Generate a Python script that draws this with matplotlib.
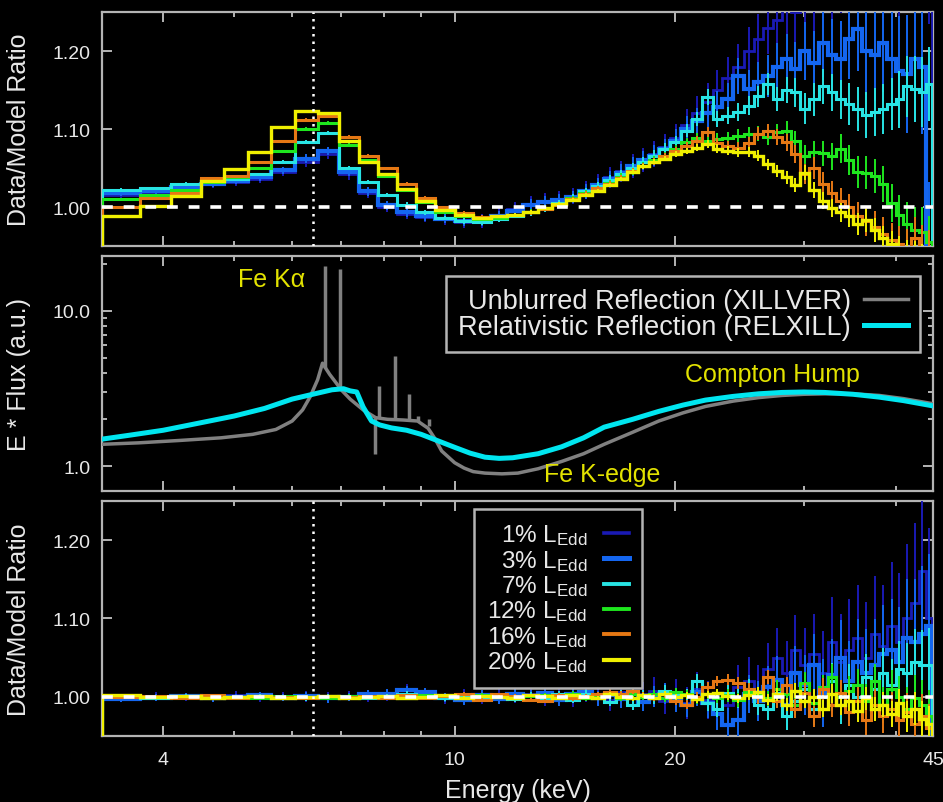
import numpy as np
import matplotlib
matplotlib.use("Agg")
import matplotlib.pyplot as plt
from matplotlib.lines import Line2D
from matplotlib.ticker import FixedLocator, FixedFormatter, NullFormatter

plt.rcParams['font.family'] = ['Liberation Sans', 'DejaVu Sans']
plt.rcParams['mathtext.fontset'] = 'custom'
plt.rcParams['mathtext.rm'] = 'Liberation Sans'
plt.rcParams['mathtext.it'] = 'Liberation Sans:italic'

# ---- spectral bins (keV) ----
edges = [3.3, 3.72, 4.1, 4.5, 4.85, 5.22, 5.62, 6.05, 6.5, 6.95,
         7.4, 7.85, 8.35, 8.85, 9.4, 10.0, 10.6, 11.2, 11.8, 12.4,
         13.0, 13.6, 14.2, 14.8, 15.4, 16.0, 16.6, 17.2, 17.8, 18.4,
         19.0, 19.7, 20.4, 21.1, 21.8, 22.5, 23.2, 24.0, 24.8, 25.6,
         26.4, 27.2, 28.0, 28.8, 29.6, 30.5, 31.4, 32.3, 33.2, 34.1,
         35.0, 36.0, 37.0, 38.0, 39.0, 40.0, 41.0, 42.0, 43.0, 44.0, 44.8]

labels = ['1%', '3%', '7%', '12%', '16%', '20%']
colors = ['#1a1ab4', '#1466f0', '#28e4e4', '#1ee61e', '#e67814', '#f0f000']
widths = [2.0, 3.0, 2.2, 2.2, 2.2, 2.4]

# data/model ratio against a power law (top panel)
ratio_pl = [
    [1.016, 1.019, 1.025, 1.029, 1.032, 1.036, 1.045, 1.058, 1.068, 1.042,
     1.018, 1.000, 0.991, 0.987, 0.984, 0.981, 0.982, 0.990, 0.998, 1.004,
     1.008, 1.010, 1.014, 1.022, 1.030, 1.038, 1.046, 1.053, 1.060, 1.068,
     1.077, 1.088, 1.105, 1.120, 1.135, 1.150, 1.165, 1.180, 1.200, 1.215,
     1.230, 1.240, 1.260, 1.250, 1.280, 1.270, 1.300, 1.290, 1.310, 1.300,
     1.330, 1.310, 1.340, 1.320, 1.350, 1.330, 1.360, 1.340, 1.370, 1.350],
    [1.018, 1.020, 1.026, 1.030, 1.033, 1.038, 1.047, 1.062, 1.072, 1.045,
     1.020, 1.002, 0.993, 0.988, 0.985, 0.982, 0.983, 0.988, 0.995, 1.002,
     1.006, 1.009, 1.013, 1.020, 1.028, 1.036, 1.044, 1.052, 1.060, 1.066,
     1.074, 1.085, 1.100, 1.110, 1.120, 1.128, 1.138, 1.168, 1.151, 1.160,
     1.168, 1.180, 1.190, 1.177, 1.200, 1.185, 1.210, 1.195, 1.190, 1.215,
     1.228, 1.200, 1.195, 1.210, 1.190, 1.175, 1.170, 1.190, 1.180, 0.940],
    [1.022, 1.024, 1.030, 1.034, 1.036, 1.042, 1.058, 1.083, 1.095, 1.050,
     1.032, 1.015, 1.003, 0.993, 0.986, 0.982, 0.981, 0.984, 0.989, 0.993,
     0.998, 1.005, 1.012, 1.020, 1.027, 1.035, 1.042, 1.050, 1.058, 1.066,
     1.075, 1.083, 1.098, 1.113, 1.141, 1.113, 1.117, 1.122, 1.130, 1.142,
     1.158, 1.138, 1.150, 1.147, 1.126, 1.138, 1.155, 1.147, 1.138, 1.132,
     1.126, 1.118, 1.122, 1.126, 1.132, 1.138, 1.155, 1.151, 1.148, 1.158],
    [1.010, 1.015, 1.022, 1.032, 1.038, 1.050, 1.072, 1.100, 1.108, 1.080,
     1.060, 1.040, 1.022, 1.006, 0.994, 0.988, 0.985, 0.986, 0.990, 0.994,
     0.999, 1.004, 1.011, 1.018, 1.024, 1.031, 1.039, 1.046, 1.053, 1.060,
     1.066, 1.074, 1.083, 1.088, 1.085, 1.087, 1.088, 1.091, 1.093, 1.094,
     1.090, 1.096, 1.098, 1.085, 1.066, 1.070, 1.069, 1.065, 1.075, 1.060,
     1.045, 1.044, 1.040, 1.030, 1.005, 0.990, 0.978, 0.970, 0.968, 0.955],
    [1.000, 1.011, 1.018, 1.037, 1.040, 1.058, 1.085, 1.112, 1.117, 1.090,
     1.066, 1.050, 1.030, 1.012, 1.000, 0.992, 0.987, 0.988, 0.990, 0.993,
     0.997, 1.002, 1.010, 1.017, 1.024, 1.030, 1.037, 1.046, 1.053, 1.058,
     1.065, 1.072, 1.078, 1.085, 1.096, 1.082, 1.078, 1.076, 1.082, 1.094,
     1.097, 1.090, 1.083, 1.068, 1.042, 1.050, 1.030, 1.018, 1.008, 1.000,
     0.989, 0.982, 0.975, 0.966, 0.958, 0.952, 0.946, 0.960, 0.948, 0.940],
    [0.989, 1.001, 1.014, 1.033, 1.049, 1.071, 1.103, 1.123, 1.120, 1.085,
     1.058, 1.042, 1.023, 1.008, 0.996, 0.990, 0.986, 0.988, 0.990, 0.994,
     0.999, 1.004, 1.009, 1.015, 1.021, 1.028, 1.036, 1.045, 1.052, 1.058,
     1.062, 1.068, 1.072, 1.076, 1.081, 1.075, 1.072, 1.070, 1.071, 1.066,
     1.055, 1.046, 1.038, 1.028, 1.044, 1.022, 1.008, 0.999, 0.993, 0.988,
     0.978, 0.983, 0.970, 0.960, 0.952, 0.945, 0.938, 0.935, 0.930, 0.920],
]

# data/model ratio against the full reflection model (bottom panel)
ratio_refl = [
    [0.998, 1.001, 1.000, 0.999, 1.002, 0.998, 1.001, 1.000, 0.999, 1.001,
     1.000, 1.002, 1.010, 1.004, 0.998, 1.001, 0.999, 1.002, 1.000, 1.003,
     0.998, 1.004, 0.997, 1.005, 1.002, 0.996, 1.006, 0.998, 1.003, 1.008,
     0.995, 1.004, 0.992, 1.010, 0.996, 0.985, 0.990, 1.012, 1.020, 1.008,
     1.035, 1.050, 1.030, 1.060, 1.040, 1.055, 1.030, 1.070, 1.045, 1.060,
     1.075, 1.050, 1.080, 1.065, 1.090, 1.070, 1.100, 1.120, 1.160, 1.100],
    [0.997, 0.999, 1.001, 0.998, 1.000, 1.002, 0.999, 1.001, 0.998, 1.000,
     1.003, 1.004, 1.009, 1.006, 0.999, 0.996, 1.002, 0.997, 1.004, 1.001,
     1.005, 0.996, 1.003, 1.006, 0.998, 1.002, 0.997, 1.004, 0.994, 1.000,
     1.004, 0.996, 0.990, 1.006, 0.992, 0.978, 0.964, 0.970, 1.004, 0.995,
     1.012, 1.022, 0.990, 1.030, 1.015, 1.040, 1.005, 1.028, 1.050, 1.020,
     1.045, 1.030, 1.040, 1.055, 1.060, 1.045, 1.075, 1.070, 1.080, 1.090],
    [1.000, 0.998, 1.001, 1.000, 0.999, 1.001, 1.000, 0.998, 1.001, 1.000,
     0.999, 1.001, 1.004, 1.000, 0.998, 1.002, 0.999, 1.001, 0.997, 1.002,
     0.999, 1.003, 0.996, 1.004, 1.001, 0.994, 1.003, 0.990, 1.002, 0.998,
     1.008, 1.004, 1.002, 1.020, 0.992, 0.985, 1.005, 0.998, 1.010, 0.990,
     0.985, 1.005, 0.975, 0.995, 1.010, 0.985, 1.000, 1.020, 0.990, 1.015,
     1.000, 1.025, 1.010, 1.030, 1.015, 1.035, 1.030, 1.045, 1.040, 1.040],
    [1.001, 1.000, 0.999, 1.001, 1.000, 0.999, 1.001, 1.000, 0.999, 1.001,
     1.000, 0.999, 0.998, 1.002, 1.001, 0.999, 1.002, 1.000, 0.998, 1.001,
     1.002, 0.999, 1.004, 0.998, 1.002, 1.005, 0.999, 1.003, 1.000, 1.004,
     0.998, 1.006, 1.003, 0.997, 1.004, 0.999, 1.002, 0.996, 1.006, 1.003,
     0.998, 1.010, 1.004, 0.990, 1.018, 0.992, 1.012, 1.025, 1.000, 1.008,
     1.015, 0.995, 1.020, 0.990, 1.010, 1.000, 0.985, 0.998, 0.990, 0.975],
    [1.000, 1.001, 0.999, 1.002, 0.998, 1.001, 1.000, 0.999, 1.001, 1.000,
     1.001, 0.999, 1.002, 0.998, 1.001, 1.004, 0.996, 1.003, 1.001, 0.996,
     0.995, 1.002, 0.998, 1.001, 1.003, 1.006, 1.004, 1.008, 1.002, 0.999,
     1.003, 0.995, 0.990, 1.000, 1.012, 1.020, 1.022, 1.018, 1.010, 1.000,
     1.025, 0.995, 1.015, 0.985, 1.005, 0.975, 1.010, 0.990, 1.005, 0.980,
     0.995, 0.970, 0.990, 0.975, 0.985, 0.970, 0.980, 0.965, 0.975, 0.960],
    [1.002, 1.000, 1.001, 0.999, 1.000, 1.001, 0.999, 1.000, 1.001, 0.999,
     1.000, 1.001, 0.999, 1.000, 1.002, 0.999, 1.001, 1.000, 0.999, 1.002,
     1.001, 0.999, 1.002, 1.000, 0.998, 1.003, 1.000, 0.998, 1.002, 0.999,
     1.004, 1.000, 1.002, 0.997, 1.003, 1.005, 1.001, 0.998, 1.002, 1.006,
     0.996, 1.003, 0.990, 1.008, 0.995, 1.000, 0.985, 1.004, 0.990, 0.995,
     0.982, 0.998, 0.985, 0.990, 0.978, 0.992, 0.975, 0.985, 0.972, 0.965],
]

# 1-sigma errors for the 12% observation; other exposures scale with counts
base_err = [0.0015, 0.0015, 0.0015, 0.0015, 0.0015, 0.0015, 0.0015, 0.002, 0.002, 0.002,
            0.002, 0.002, 0.002, 0.002, 0.002, 0.0025, 0.0025, 0.0025, 0.0025, 0.003,
            0.003, 0.003, 0.003, 0.0035, 0.0035, 0.004, 0.004, 0.0045, 0.0045, 0.005,
            0.005, 0.0055, 0.006, 0.0065, 0.007, 0.0075, 0.008, 0.0085, 0.009, 0.0095,
            0.010, 0.011, 0.012, 0.013, 0.014, 0.015, 0.016, 0.017, 0.018, 0.019,
            0.020, 0.021, 0.022, 0.023, 0.024, 0.026, 0.028, 0.030, 0.032, 0.034]
err_scale = [3.4, 2.7, 1.4, 1.0, 0.9, 0.7]

# model spectra (middle panel)
xill_energy = [3.3, 3.7, 4.2, 4.8, 5.3, 5.7, 6.0, 6.2, 6.35, 6.5,
               6.6, 6.66, 6.75, 6.9, 7.0, 7.2, 7.5, 7.8, 8.1, 8.5,
               8.9, 9.2, 9.4, 9.6, 10.0, 10.3, 10.6, 11.0, 11.6, 12.2,
               13.0, 14.0, 15.0, 16.0, 17.5, 19.0, 20.5, 22.0, 24.0, 26.0,
               28.0, 30.0, 32.0, 35.0, 38.0, 41.0, 45.0]
xill_flux = [1.38, 1.41, 1.46, 1.52, 1.60, 1.72, 1.95, 2.30, 2.80, 3.60,
             4.60, 4.30, 3.90, 3.40, 3.10, 2.70, 2.30, 2.05, 2.00, 1.98,
             1.95, 1.75, 1.50, 1.25, 1.05, 0.97, 0.92, 0.90, 0.89, 0.90,
             0.96, 1.07, 1.20, 1.38, 1.65, 1.95, 2.20, 2.42, 2.62, 2.76,
             2.85, 2.90, 2.92, 2.92, 2.85, 2.72, 2.52]
line_energy = [6.66, 6.98, 7.78, 7.88, 8.28, 8.65, 8.90, 9.24]
line_low = [4.30, 3.20, 1.20, 2.03, 2.00, 1.98, 1.95, 1.80]
line_high = [19.5, 18.5, 2.05, 3.30, 5.10, 2.90, 2.10, 2.00]

rel_energy = [3.3, 3.6, 4.0, 4.5, 5.0, 5.5, 6.0, 6.4, 6.8, 7.05,
              7.2, 7.35, 7.5, 7.7, 7.9, 8.2, 8.6, 9.0, 9.5, 10.0,
              10.5, 11.0, 11.5, 12.0, 13.0, 14.0, 15.0, 16.0, 17.5, 19.0,
              20.5, 22.0, 24.0, 26.0, 28.0, 30.0, 32.0, 35.0, 38.0, 41.0,
              45.0]
rel_flux = [1.49, 1.58, 1.70, 1.90, 2.10, 2.35, 2.70, 2.90, 3.10, 3.15,
            3.05, 3.00, 2.40, 1.95, 1.84, 1.76, 1.70, 1.60, 1.45, 1.32,
            1.21, 1.14, 1.12, 1.13, 1.20, 1.33, 1.52, 1.78, 2.00, 2.25,
            2.47, 2.66, 2.81, 2.92, 2.98, 3.00, 2.98, 2.90, 2.78, 2.64,
            2.44]

fe_ka = 6.4
x_major = [4, 10, 20, 45]
x_minor = [5, 6, 7, 8, 9, 30, 40]

FRAME = '#b4b4b4'
TEXT = '#e8e8e8'
GOLD = '#e2e200'

fig = plt.figure(figsize=(9.43, 8.03), dpi=100, facecolor='black')
ax_top = fig.add_axes([0.1082, 0.6924, 0.8812, 0.2914])
ax_mid = fig.add_axes([0.1082, 0.3873, 0.8812, 0.2927])
ax_bot = fig.add_axes([0.1082, 0.0822, 0.8812, 0.2927])


def style_axes(ax):
    ax.set_facecolor('black')
    for sp in ax.spines.values():
        sp.set_color(FRAME)
        sp.set_linewidth(1.6)
    ax.set_xscale('log')
    ax.set_xlim(3.3, 45)
    ax.xaxis.set_major_locator(FixedLocator(x_major))
    ax.xaxis.set_major_formatter(FixedFormatter([str(v) for v in x_major]))
    ax.xaxis.set_minor_locator(FixedLocator(x_minor))
    ax.xaxis.set_minor_formatter(NullFormatter())
    ax.tick_params(which='both', direction='in', top=True, right=True,
                   color=FRAME, labelcolor=TEXT, labelsize=14, width=1.4)
    ax.tick_params(which='major', length=7)
    ax.tick_params(which='minor', length=3.5)
    ax.tick_params(axis='x', pad=11)
    ax.tick_params(axis='y', pad=8)


edges_arr = np.array(edges)
centers = np.sqrt(edges_arr[:-1] * edges_arr[1:])

for ax, ratios in [(ax_top, ratio_pl), (ax_bot, ratio_refl)]:
    style_axes(ax)
    for vals, c, lw, s in zip(ratios, colors, widths, err_scale):
        ax.stairs(vals, edges, baseline=0, color=c, lw=lw, zorder=3)
        ax.errorbar(centers, vals, yerr=np.array(base_err) * s, fmt='none',
                    ecolor=c, elinewidth=1.4, zorder=3)
    ax.axhline(1.0, color='white', lw=2.6, ls=(0, (3, 3)), zorder=5)
    ax.axvline(fe_ka, color='white', lw=1.8, ls=(0, (1, 2)), zorder=5)
    ax.set_ylim(0.95, 1.25)
    ax.set_yticks([1.0, 1.1, 1.2])
    ax.set_yticklabels(['1.00', '1.10', '1.20'])
    ax.set_ylabel('Data/Model Ratio', color=TEXT, fontsize=18)
    ax.yaxis.set_label_coords(-0.085, 0.5)

ax_top.tick_params(axis='x', labelbottom=False)

# middle panel: reflection models
style_axes(ax_mid)
ax_mid.tick_params(axis='x', labelbottom=False)
ax_mid.plot(xill_energy, xill_flux, color='#808080', lw=2.5, zorder=3,
            label='Unblurred Reflection (XILLVER)')
ax_mid.vlines(line_energy, line_low, line_high, color='#808080', lw=2.5, zorder=3)
ax_mid.plot(rel_energy, rel_flux, color='#00e6f0', lw=3.6, zorder=4,
            label='Relativistic Reflection (RELXILL)')
ax_mid.set_yscale('log')
ax_mid.set_ylim(0.69, 22.6)
ax_mid.yaxis.set_major_locator(FixedLocator([1, 10]))
ax_mid.yaxis.set_major_formatter(FixedFormatter(['1.0', '10.0']))
ax_mid.yaxis.set_minor_locator(FixedLocator([2, 3, 4, 5, 6, 7, 8, 9, 20]))
ax_mid.yaxis.set_minor_formatter(NullFormatter())
ax_mid.set_ylabel('E * Flux (a.u.)', color=TEXT, fontsize=18)
ax_mid.yaxis.set_label_coords(-0.085, 0.5)

ax_mid.text(5.62, 16.1, 'Fe K\u03b1', color=GOLD, fontsize=18, ha='center', va='center')
ax_mid.text(27.2, 3.92, 'Compton Hump', color=GOLD, fontsize=18, ha='center', va='center')
ax_mid.text(15.9, 0.89, 'Fe K-edge', color=GOLD, fontsize=18, ha='center', va='center')

leg = ax_mid.legend(loc='upper right', bbox_to_anchor=(0.984, 0.915),
                    borderaxespad=0, markerfirst=False, fontsize=19.5,
                    handlelength=1.6, labelspacing=0.0, handletextpad=0.5,
                    borderpad=0.45, fancybox=False, facecolor='black',
                    edgecolor=FRAME, framealpha=1, labelcolor=TEXT)
leg.get_frame().set_linewidth(1.8)

ax_bot.set_xlabel('Energy (keV)', color=TEXT, fontsize=18)
ax_bot.xaxis.set_label_coords(0.5, -0.18)

handles = [Line2D([], [], color=c, lw=lw + 0.6) for c, lw in zip(colors, widths)]
leg_labels = [f'{p} L$_{{\\rm Edd}}$' for p in labels]
leg2 = ax_bot.legend(handles, leg_labels, loc='upper right',
                     bbox_to_anchor=(0.65, 0.966), borderaxespad=0,
                     markerfirst=False, fontsize=17.5, handlelength=1.0,
                     labelspacing=0.02, handletextpad=0.7, borderpad=0.55,
                     fancybox=False, facecolor='black', edgecolor=FRAME,
                     framealpha=1, labelcolor=TEXT)
leg2.get_frame().set_linewidth(1.8)

fig.savefig('out.png', dpi=100, facecolor='black')
